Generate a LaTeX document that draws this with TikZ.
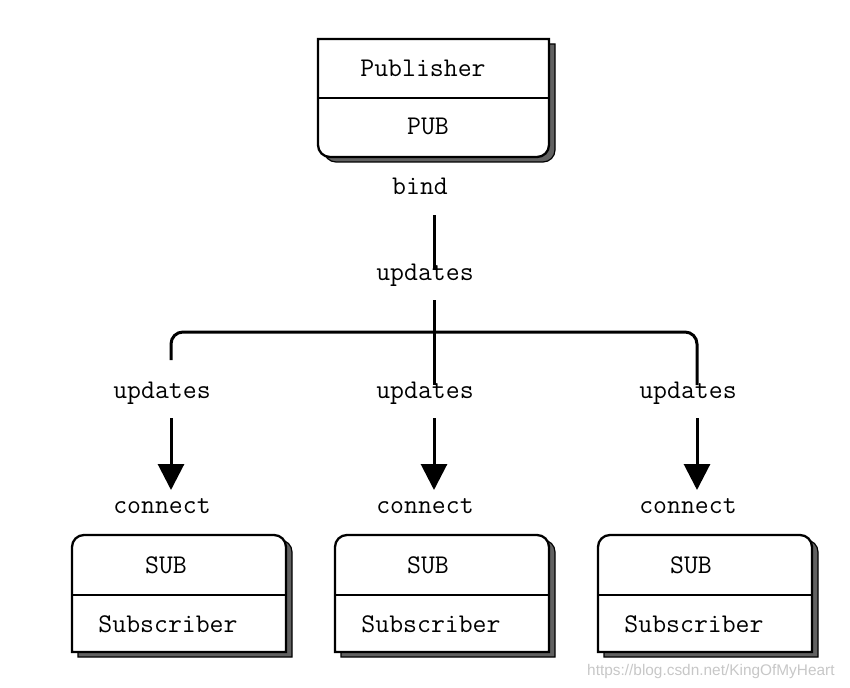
\documentclass[tikz,border=0pt]{standalone}
\usepackage{fontspec}
\usetikzlibrary{arrows.meta}
\newfontfamily\wmfont{Liberation Sans}
\begin{document}
\begin{tikzpicture}[x=1pt,y=-1pt,
  lbl/.style={font=\fontsize{27}{27}\selectfont\ttfamily, inner sep=0pt, anchor=base},
  boxline/.style={line width=2.3pt, draw=black, fill=white},
  shadowfill/.style={line width=1.2pt, draw=black, fill=black!62},
  divider/.style={line width=2.3pt, black},
  conn/.style={line width=3pt, black},
  arr/.style={conn, -{Triangle[width=26pt,length=26pt]}},
  wm/.style={font=\wmfont\fontsize{15.4}{15.4}\selectfont, text=black!22, inner sep=0pt, anchor=base west}]
\useasboundingbox (0,0) rectangle (850,687);

% ---------- Publisher box ----------
\path[shadowfill] (324,44) -- (555,44) -- (555,150)
  arc[start angle=0,end angle=90,radius=12] -- (336,162)
  arc[start angle=90,end angle=180,radius=12] -- cycle;
\path[boxline] (318,39) -- (549,39) -- (549,145)
  arc[start angle=0,end angle=90,radius=12] -- (330,157)
  arc[start angle=90,end angle=180,radius=12] -- cycle;
\coordinate (pdl) at (318,98);
\coordinate (pdr) at (549,98);
\draw[divider] (pdl) -- (pdr);
\node[lbl] (publisher) at (423,77) {Publisher};
\node[lbl] (pub) at (428,135) {PUB};
\node[lbl] (bind) at (420,194) {bind};

% ---------- Subscriber boxes ----------
\foreach \i/\x in {l/72, m/335, r/598}{
  \pgfmathsetmacro{\xr}{\x+214}
  \pgfmathsetmacro{\xs}{\x+6}
  \pgfmathsetmacro{\xsr}{\x+220}
  \path[shadowfill] (\xs,657) -- (\xs,552)
    arc[start angle=180,end angle=270,radius=12] -- (\xsr-12,540)
    arc[start angle=270,end angle=360,radius=12] -- (\xsr,657) -- cycle;
  \path[boxline] (\x,652) -- (\x,547)
    arc[start angle=180,end angle=270,radius=12] -- (\xr-12,535)
    arc[start angle=270,end angle=360,radius=12] -- (\xr,652) -- cycle;
  \coordinate (sdl\i) at (\x,595);
  \coordinate (sdr\i) at (\xr,595);
  \draw[divider] (sdl\i) -- (sdr\i);
}
\node[lbl] (subl) at (166,573) {SUB};
\node[lbl] (subm) at (428,573) {SUB};
\node[lbl] (subr) at (691,573) {SUB};
\node[lbl] (subscrl) at (168,632) {Subscriber};
\node[lbl] (subscrm) at (431,632) {Subscriber};
\node[lbl] (subscrr) at (694,632) {Subscriber};

% ---------- labels ----------
\node[lbl] (updtop) at (425,280) {updates};
\node[lbl] (updl) at (162,398) {updates};
\node[lbl] (updm) at (425,398) {updates};
\node[lbl] (updr) at (688,398) {updates};
\node[lbl] (connl) at (162,513) {connect};
\node[lbl] (connm) at (425,513) {connect};
\node[lbl] (connr) at (688,513) {connect};

% ---------- connectors ----------
\coordinate (c1a) at (434,215);
\coordinate (c1b) at (434,270);
\coordinate (c2a) at (434,300);
\coordinate (c2b) at (434,385);
\coordinate (hl) at (171,360);
\coordinate (hlc) at (171,332);
\coordinate (hrc) at (697,332);
\coordinate (hr) at (697,385);
\draw[conn] (c1a) -- (c1b);
\draw[conn] (c2a) -- (c2b);
\draw[conn, rounded corners=12pt] (hl) -- (hlc) -- (hrc) -- (hr);

\foreach \i/\x in {l/171, m/434, r/697}{
  \coordinate (as\i) at (\x,418);
  \coordinate (ae\i) at (\x,490);
  \draw[arr] (as\i) -- (ae\i);
}

% ---------- watermark ----------
\node[wm] (wmark) at (587,675) {https://blog.csdn.net/KingOfMyHeart};
\end{tikzpicture}
\end{document}
